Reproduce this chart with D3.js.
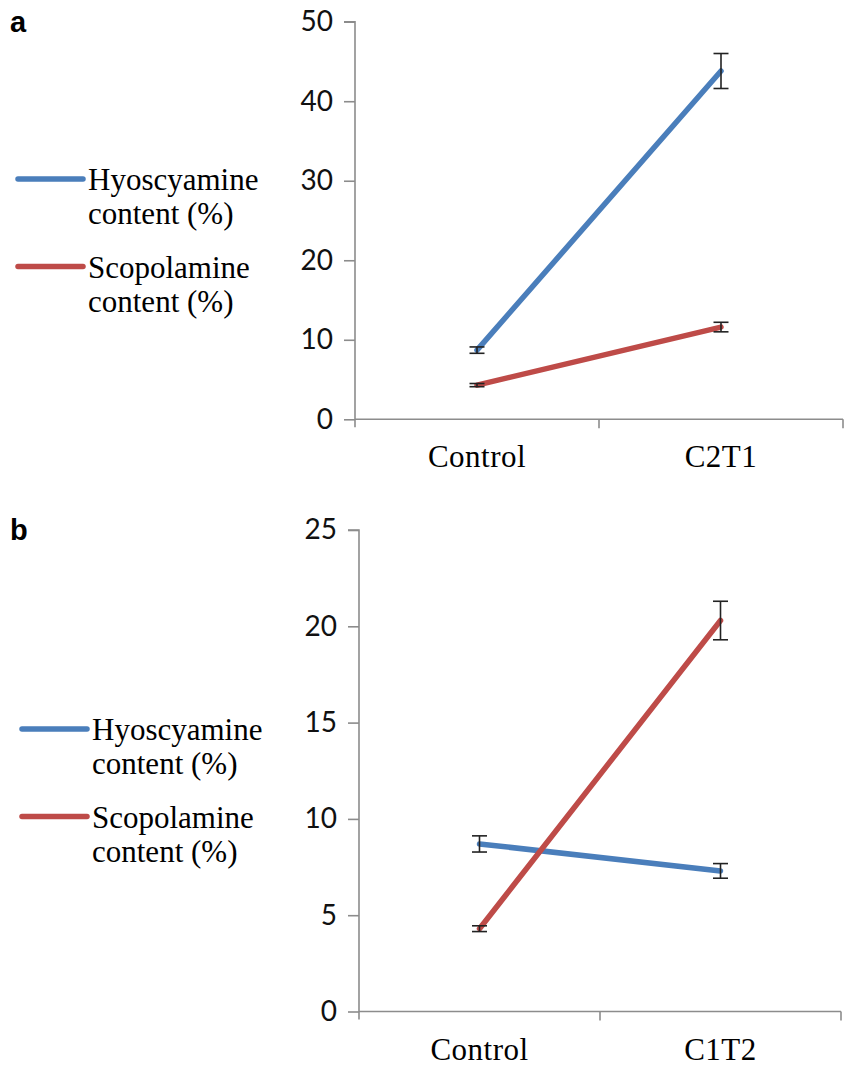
<!DOCTYPE html>
<html>
<head>
<meta charset="utf-8">
<script src="https://cdn.jsdelivr.net/npm/d3@7"></script>
<style>
  body { margin: 0; background: #fff; }
  svg { display: block; }
</style>
</head>
<body>
<div id="chart"></div>
<script>
// Data
var seriesNames = ["Hyoscyamine", "Scopolamine"];

var categoriesA = ["Control", "C2T1"];
var hyoA = [8.7, 43.8];
var hyoErrA = [0.4, 2.2];
var scoA = [4.3, 11.6];
var scoErrA = [0.2, 0.6];
var yTicksA = [0, 10, 20, 30, 40, 50];

var categoriesB = ["Control", "C1T2"];
var hyoB = [8.7, 7.3];
var hyoErrB = [0.42, 0.38];
var scoB = [4.3, 20.3];
var scoErrB = [0.15, 1.0];
var yTicksB = [0, 5, 10, 15, 20, 25];

var colors = { Hyoscyamine: "#4a7ebb", Scopolamine: "#be4b48" };
var axisColor = "#8c8c8c";

var svg = d3.select("#chart")
    .append("svg")
    .attr("width", 846)
    .attr("height", 1065);

// One panel: label, legend, axes, lines and error bars
function drawPanel(opt) {
    var g = svg.append("g");

    var x = d3.scaleBand().domain(opt.categories).range([opt.left, opt.right]);
    var y = d3.scaleLinear().domain([0, d3.max(opt.yTicks)]).range([opt.bottom, opt.top]);
    var cx = function (c) { return x(c) + x.bandwidth() / 2; };

    // panel letter
    g.append("text")
        .attr("x", 10)
        .attr("y", opt.top + 10)
        .attr("font-family", "Liberation Sans, Arial, sans-serif")
        .attr("font-weight", "bold")
        .attr("font-size", 29)
        .text(opt.letter);

    // y axis
    var yAxis = d3.axisLeft(y)
        .tickValues(opt.yTicks)
        .tickSize(11)
        .tickPadding(11)
        .tickFormat(d3.format("d"));
    var yg = g.append("g")
        .attr("transform", "translate(" + opt.left + ",0)")
        .call(yAxis);
    yg.select(".domain").attr("stroke", axisColor).attr("stroke-width", 1.6)
        .attr("d", "M0," + (opt.bottom + 8) + "V" + opt.top + "H-11");
    yg.selectAll(".tick line").attr("stroke", axisColor).attr("stroke-width", 1.6);
    yg.selectAll(".tick text")
        .attr("fill", "#111")
        .attr("font-family", "Lato, 'Open Sans', sans-serif")
        .attr("font-size", 28);

    // x axis: ticks sit between categories
    var xg = g.append("g").attr("transform", "translate(0," + opt.bottom + ")");
    xg.append("line")
        .attr("x1", opt.left).attr("x2", opt.right)
        .attr("stroke", axisColor).attr("stroke-width", 1.6);
    xg.selectAll(".xtick")
        .data(opt.categories.slice(1).concat(["__end"]))
        .join("line")
        .attr("class", "xtick")
        .attr("x1", function (c) { return c === "__end" ? opt.right : x(c); })
        .attr("x2", function (c) { return c === "__end" ? opt.right : x(c); })
        .attr("y1", 0).attr("y2", 9)
        .attr("stroke", axisColor).attr("stroke-width", 1.6);
    xg.selectAll(".xlabel")
        .data(opt.categories)
        .join("text")
        .attr("class", "xlabel")
        .attr("x", cx)
        .attr("y", 48)
        .attr("text-anchor", "middle")
        .attr("font-family", "Liberation Serif, 'Times New Roman', serif")
        .attr("font-size", 31)
        .attr("letter-spacing", 0.5)
        .text(function (c) { return c; });

    var series = [
        { name: "Hyoscyamine", values: opt.hyo, errs: opt.hyoErr },
        { name: "Scopolamine", values: opt.sco, errs: opt.scoErr }
    ];

    var line = d3.line()
        .x(function (d) { return cx(d.cat); })
        .y(function (d) { return y(d.v); });

    series.forEach(function (s) {
        var pts = opt.categories.map(function (c, i) {
            return { cat: c, v: s.values[i], e: s.errs[i] };
        });

        g.append("path")
            .datum(pts)
            .attr("fill", "none")
            .attr("stroke", colors[s.name])
            .attr("stroke-width", 5.5)
            .attr("stroke-linecap", "round")
            .attr("d", line);

        var eb = g.append("g").selectAll("g").data(pts).join("g");
        eb.append("line")
            .attr("x1", function (d) { return cx(d.cat); })
            .attr("x2", function (d) { return cx(d.cat); })
            .attr("y1", function (d) { return y(d.v - d.e); })
            .attr("y2", function (d) { return y(d.v + d.e); })
            .attr("stroke", "#222").attr("stroke-width", 1.6);
        [-1, 1].forEach(function (sign) {
            eb.append("line")
                .attr("x1", function (d) { return cx(d.cat) - 7.5; })
                .attr("x2", function (d) { return cx(d.cat) + 7.5; })
                .attr("y1", function (d) { return y(d.v + sign * d.e); })
                .attr("y2", function (d) { return y(d.v + sign * d.e); })
                .attr("stroke", "#222").attr("stroke-width", 1.6);
        });
    });

    // legend
    var lg = g.append("g");
    series.forEach(function (s, i) {
        var ly = opt.legendY + i * 87.5;
        lg.append("line")
            .attr("x1", opt.legendX).attr("x2", opt.legendX + 65)
            .attr("y1", ly).attr("y2", ly)
            .attr("stroke", colors[s.name])
            .attr("stroke-width", 5.5)
            .attr("stroke-linecap", "round");
        var t = lg.append("text")
            .attr("x", opt.legendX + 70)
            .attr("y", ly + 11)
            .attr("font-family", "Liberation Serif, 'Times New Roman', serif")
            .attr("font-size", 31);
        t.append("tspan").attr("x", opt.legendX + 70).text(s.name);
        t.append("tspan").attr("x", opt.legendX + 70).attr("dy", 34).text("content (%)");
    });
}

drawPanel({
    letter: "a", categories: categoriesA, yTicks: yTicksA,
    hyo: hyoA, hyoErr: hyoErrA, sco: scoA, scoErr: scoErrA,
    left: 355, right: 843, top: 21.7, bottom: 419.3,
    legendX: 18, legendY: 179
});

drawPanel({
    letter: "b", categories: categoriesB, yTicks: yTicksB,
    hyo: hyoB, hyoErr: hyoErrB, sco: scoB, scoErr: scoErrB,
    left: 359, right: 841, top: 530, bottom: 1011.5,
    legendX: 22, legendY: 729
});
</script>
</body>
</html>
